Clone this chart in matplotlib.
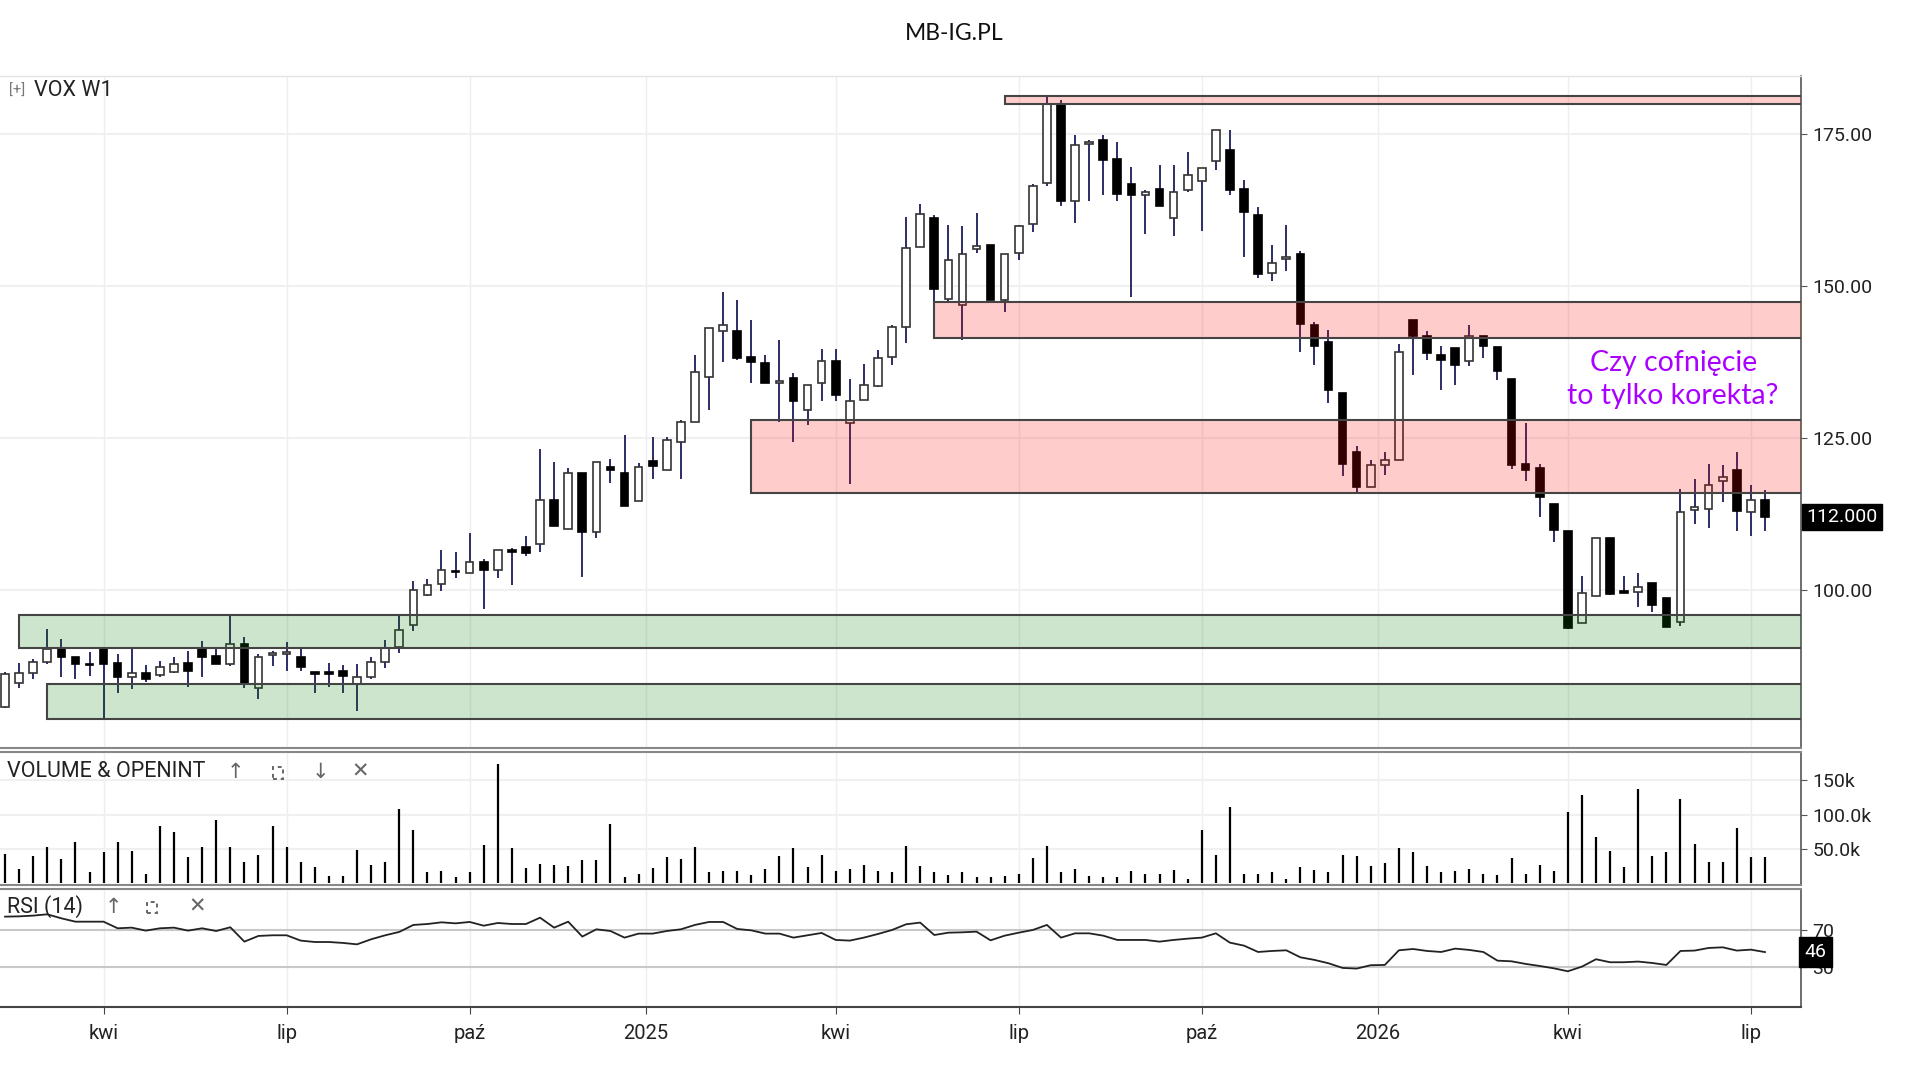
import matplotlib
matplotlib.use('Agg')
import matplotlib.pyplot as plt
import matplotlib.dates as mdates
import matplotlib.transforms as mtransforms
from matplotlib.patches import Rectangle
from matplotlib.ticker import FormatStrFormatter
import numpy as np
import pandas as pd

plt.rcParams['font.family'] = ['Roboto', 'DejaVu Sans']

# tygodniowe swiece VOX (W1), pierwsza swieca 12.02.2024
first_week = '2024-02-12'

opens = [80.8, 84.75, 86.4, 88.15, 90.35, 88.9, 87.7, 90.35, 88.05, 85.7,
         86.4, 86.0, 86.5, 87.9, 90.5, 89.1, 87.8, 91.1, 83.8, 89.25,
         89.4, 89.0, 86.5, 86.5, 86.6, 84.6, 85.7, 88.2, 90.6, 94.2,
         99.1, 100.93, 103.1, 102.8, 104.6, 103.24, 106.6, 107.13, 107.5, 114.77,
         110.0, 119.3, 109.6, 120.15, 119.3, 114.55, 121.25, 119.7, 124.3, 127.55,
         135.0, 142.5, 142.5, 138.26, 137.3, 134.0, 134.8, 129.6, 134.0, 137.7,
         127.4, 131.2, 133.5, 138.26, 143.2, 156.4, 161.1, 147.9, 146.9, 156.1,
         156.65, 147.6, 155.4, 160.1, 166.9, 179.85, 163.9, 173.3, 173.9, 170.8,
         166.7, 164.98, 165.85, 161.14, 165.7, 167.2, 170.6, 172.3, 165.85, 161.6,
         152.1, 154.35, 155.16, 143.6, 140.7, 132.3, 122.6, 117.0, 120.6, 121.35,
         144.46, 141.83, 138.7, 139.74, 137.6, 141.83, 139.9, 134.7, 120.7, 119.98,
         114.2, 109.7, 94.52, 99.0, 108.6, 99.84, 99.73, 101.1, 98.74, 94.79,
         113.12, 113.3, 117.95, 119.7, 112.74, 114.77]
highs = [86.5, 88.0, 88.6, 93.5, 91.9, 88.9, 89.8, 90.35, 89.4, 90.35,
         87.7, 88.3, 89.0, 90.0, 91.6, 90.2, 95.9, 92.3, 89.4, 90.0,
         91.4, 90.5, 86.5, 88.0, 87.7, 87.8, 88.9, 91.8, 95.9, 101.5,
         101.76, 106.5, 106.15, 109.4, 105.05, 106.6, 106.97, 108.9, 123.2, 121.1,
         120.0, 119.3, 121.1, 121.5, 125.5, 120.8, 125.1, 125.1, 127.9, 138.7,
         143.0, 148.96, 147.6, 144.4, 138.6, 141.1, 135.6, 133.75, 139.6, 139.6,
         134.7, 137.2, 139.5, 143.6, 161.3, 163.5, 161.7, 160.05, 159.8, 161.9,
         156.65, 155.2, 160.0, 166.8, 181.2, 180.5, 174.75, 173.9, 174.75, 173.65,
         169.5, 165.8, 169.8, 169.8, 172.0, 169.4, 175.7, 175.7, 167.45, 162.95,
         156.75, 160.04, 155.65, 144.0, 142.75, 132.3, 123.6, 121.35, 122.6, 140.45,
         144.46, 142.5, 140.1, 139.74, 143.6, 141.83, 139.9, 134.7, 127.45, 120.7,
         114.2, 109.7, 102.3, 108.6, 108.6, 102.3, 102.86, 101.1, 98.74, 116.58,
         118.2, 120.7, 120.6, 122.6, 117.24, 116.4]
lows = [80.6, 83.8, 85.3, 87.8, 85.6, 85.3, 85.85, 78.8, 83.1, 83.65,
        84.9, 85.6, 86.4, 84.1, 85.7, 87.8, 87.5, 83.9, 82.0, 87.5,
        86.7, 86.7, 83.1, 84.1, 83.0, 80.1, 85.3, 87.1, 89.7, 93.3,
        99.0, 99.8, 101.9, 102.8, 96.8, 101.9, 100.77, 105.6, 106.15, 110.5,
        110.0, 102.2, 108.5, 117.5, 113.8, 114.55, 118.2, 119.7, 118.2, 127.55,
        129.6, 137.4, 137.8, 134.0, 134.0, 127.6, 124.3, 127.1, 131.0, 131.0,
        117.4, 131.2, 133.3, 137.0, 140.6, 156.4, 146.2, 147.3, 141.1, 155.4,
        147.7, 145.7, 154.3, 158.8, 166.4, 163.06, 160.3, 163.9, 164.98, 163.9,
        148.2, 158.45, 163.1, 158.2, 165.4, 159.0, 169.0, 165.0, 154.7, 151.3,
        150.8, 152.5, 139.1, 137.0, 130.7, 118.7, 115.8, 117.0, 118.9, 121.35,
        135.4, 137.8, 132.9, 133.76, 136.8, 138.15, 134.5, 119.9, 117.95, 112.0,
        107.8, 93.5, 94.52, 99.0, 99.2, 99.5, 97.2, 96.3, 93.9, 94.08,
        110.9, 110.2, 114.4, 109.7, 108.9, 109.7]
closes = [86.1, 86.3, 88.1, 90.35, 88.98, 87.8, 87.6, 87.8, 85.6, 86.3,
          85.3, 87.3, 87.8, 86.7, 89.0, 87.8, 91.1, 84.75, 89.0, 89.7,
          89.85, 87.3, 86.1, 86.1, 85.85, 85.6, 88.2, 90.4, 93.4, 99.95,
          100.77, 103.24, 102.9, 104.6, 103.24, 106.6, 106.15, 106.04, 114.77, 110.5,
          119.3, 109.6, 121.1, 119.7, 113.8, 120.15, 120.3, 124.65, 127.55, 135.8,
          143.0, 143.6, 138.15, 137.44, 134.0, 134.4, 131.0, 133.75, 137.7, 132.1,
          131.0, 133.75, 138.1, 143.2, 156.2, 161.75, 149.5, 154.3, 155.2, 156.5,
          147.7, 155.2, 159.9, 166.4, 179.85, 163.9, 173.1, 173.65, 170.75, 165.15,
          164.98, 165.4, 163.1, 165.4, 168.2, 169.4, 175.7, 165.8, 162.1, 152.0,
          153.7, 154.7, 143.74, 140.1, 132.9, 120.7, 117.0, 120.5, 121.4, 139.1,
          141.72, 138.9, 137.8, 137.0, 141.83, 140.07, 135.95, 120.6, 119.7, 115.2,
          109.83, 93.7, 99.46, 108.6, 99.4, 99.57, 100.5, 97.53, 93.9, 112.74,
          113.56, 117.3, 118.5, 112.9, 114.77, 112.0]

# wolumen w tysiacach
volume_k = [43.1, 21.1, 40.2, 52.9, 35.3, 60.3, 16.2, 45.6, 60.3, 47.5,
            13.7, 83.8, 75.0, 38.2, 52.9, 91.7, 52.9, 30.9, 41.7, 83.8,
            52.9, 30.4, 23.5, 10.8, 10.8, 49.0, 27.0, 30.9, 107.8, 77.0,
            16.2, 18.1, 8.8, 16.2, 56.4, 174.0, 51.0, 22.1, 28.4, 27.0,
            25.5, 33.3, 33.3, 85.8, 8.8, 13.7, 22.1, 38.2, 35.8, 52.9,
            16.2, 18.1, 18.1, 11.3, 21.1, 40.2, 51.0, 23.5, 41.7, 18.1,
            20.6, 27.0, 18.1, 16.2, 54.9, 25.5, 16.2, 12.3, 16.2, 8.8,
            8.8, 10.8, 13.7, 36.3, 54.9, 16.2, 21.1, 10.8, 8.8, 8.8,
            18.1, 13.2, 13.7, 19.6, 6.4, 77.0, 41.7, 111.3, 13.7, 13.7,
            15.7, 6.4, 23.5, 19.6, 16.2, 41.7, 40.2, 25.5, 28.9, 51.0,
            45.6, 25.5, 16.2, 18.1, 21.1, 13.7, 12.3, 36.3, 13.7, 27.0,
            18.1, 104.4, 128.9, 67.6, 47.5, 23.5, 137.3, 40.2, 45.6, 122.5,
            57.8, 30.4, 30.4, 80.4, 38.2, 38.2]

rsi = [84.3, 84.6, 85.4, 86.8, 82.5, 78.9, 78.9, 78.9, 71.8, 72.5,
       69.3, 71.8, 72.5, 69.3, 71.8, 68.9, 72.9, 57.5, 63.6, 64.3,
       64.3, 58.6, 57.1, 57.1, 56.1, 54.6, 60.0, 64.3, 67.9, 75.4,
       76.4, 78.2, 77.1, 78.6, 74.6, 77.5, 76.4, 76.4, 83.2, 72.5,
       78.9, 62.9, 70.7, 68.9, 61.8, 66.1, 66.1, 68.9, 70.7, 75.4,
       78.6, 78.6, 71.1, 69.6, 66.1, 66.1, 61.8, 64.3, 66.8, 59.3,
       58.6, 61.8, 65.7, 70.0, 76.1, 77.9, 64.6, 67.1, 67.5, 68.2,
       58.9, 63.9, 67.1, 70.0, 75.4, 61.8, 66.4, 66.4, 63.9, 59.3,
       59.3, 59.3, 57.5, 59.3, 60.7, 61.8, 66.4, 56.4, 53.2, 46.4,
       47.5, 48.2, 40.7, 37.9, 34.3, 29.3, 28.6, 32.2, 32.5, 48.2,
       49.6, 47.5, 46.4, 50.0, 48.6, 46.4, 37.1, 36.4, 33.6, 31.4,
       28.9, 25.7, 30.7, 38.6, 35.4, 35.4, 36.1, 34.6, 32.5, 47.5,
       47.9, 50.7, 51.4, 47.9, 48.9, 46.3]

# strefy wsparcia/oporu: dol, gora, indeks swiecy od ktorej startuja, kolor
zone_low = [179.85, 141.4, 115.9, 90.4, 78.8]
zone_high = [181.15, 147.4, 127.9, 95.95, 84.5]
zone_start = [71, 66, 53, 1, 3]
zone_color = ['red', 'red', 'red', 'green', 'green']

price_ticks = [100, 125, 150, 175]
volume_ticks = [50, 100, 150]
volume_labels = ['50.0k', '100.0k', '150k']
rsi_levels = [70, 30]
month_names = {4: 'kwi', 7: 'lip', 10: 'paź'}

title = 'MB-IG.PL'
note = 'Czy cofnięcie\nto tylko korekta?'

dates = pd.date_range(first_week, periods=len(closes), freq='7D')
week_end = dates + pd.Timedelta(days=6)
x = mdates.date2num(dates)
o = np.array(opens)
h = np.array(highs)
l = np.array(lows)
c = np.array(closes)

# ticki osi czasu: miesiac na swiecy, w ktorej tygodniu wypada 1. dzien;
# rok na granicy miedzy swiecami
ticks = []
tick_labels = []
for d in pd.date_range('2024-04-01', '2026-07-01', freq='QS'):
    i = np.searchsorted(week_end, d)
    if d.month == 1:
        ticks.append((x[i - 1] + x[i]) / 2)
        tick_labels.append(str(d.year))
    else:
        ticks.append(x[i])
        tick_labels.append(month_names[d.month])

fig = plt.figure(figsize=(19.2, 10.8), dpi=100)
W = 1801 / 1920
ax_p = fig.add_axes([0, 0.3074, W, 0.6222])
ax_v = fig.add_axes([0, 0.1806, W, 0.1231])
ax_r = fig.add_axes([0, 0.0676, W, 0.1093])

xmin = x[0] - 2.5
xmax = x[0] + 127.56 * 7

for ax in (ax_p, ax_v, ax_r):
    ax.set_xlim(xmin, xmax)
    ax.set_xticks(ticks)
    ax.grid(axis='x', color='#eeeeee', lw=1)
    ax.set_axisbelow(True)
    ax.yaxis.tick_right()
    ax.spines['left'].set_visible(False)
    ax.spines['right'].set_color('#555555')
    ax.spines['right'].set_linewidth(1.2)
    ax.spines['top'].set_color('#888888')
    ax.spines['bottom'].set_color('#888888')
    ax.spines['top'].set_linewidth(1.5)
    ax.spines['bottom'].set_linewidth(1.5)
    ax.tick_params(axis='y', direction='out', length=4, color='#555555',
                   labelsize=14, labelcolor='#222222', pad=4)

ax_p.spines['top'].set_color('#e3e3e3')
ax_p.spines['top'].set_linewidth(1)
ax_p.tick_params(axis='x', length=0, labelbottom=False)
ax_v.tick_params(axis='x', length=0, labelbottom=False)

# ---- wykres cenowy ----
ax_p.set_ylim(74.0, 184.5)
ax_p.set_yticks(price_ticks)
ax_p.yaxis.set_major_formatter(FormatStrFormatter('%.2f'))
ax_p.grid(axis='y', color='#f0f0f0', lw=1.5)

ax_p.vlines(x, l, h, color='#1c1c5c', lw=1.3, zorder=1)
up = c >= o
body_low = np.minimum(o, c)
body_h = np.maximum(np.abs(c - o), 0.2)
ax_p.bar(x[up], body_h[up], bottom=body_low[up], width=3.8,
         facecolor='white', edgecolor='#333333', lw=1.2, zorder=2)
ax_p.bar(x[~up], body_h[~up], bottom=body_low[~up], width=3.8,
         facecolor='black', edgecolor='black', lw=1.2, zorder=2)

# strefy rysowane na wierzchu, polprzezroczyste
for lo, hi, st, col in zip(zone_low, zone_high, zone_start, zone_color):
    fc = (1, 0, 0, 0.2) if col == 'red' else (0, 0.5, 0, 0.2)
    ax_p.add_patch(Rectangle((x[st], lo), xmax - x[st] + 10, hi - lo,
                             facecolor=fc, edgecolor='#444444', lw=1.5, zorder=3))

ax_p.text(0.929, 0.548, note, transform=ax_p.transAxes, ha='center', va='center',
          fontsize=20.5, color='#aa00ff', family=['Lato', 'DejaVu Sans'],
          linespacing=1.35, zorder=5)

trans_p = mtransforms.blended_transform_factory(ax_p.transAxes, ax_p.transData)
ax_p.text(1.003, c[-1], '%.3f' % c[-1], transform=trans_p, ha='left', va='center',
          fontsize=14, color='white', zorder=6, clip_on=False,
          bbox=dict(boxstyle='square,pad=0.22', facecolor='black', edgecolor='black'))

ax_p.text(0.005, 0.978, '[+]', transform=ax_p.transAxes, fontsize=10.5,
          color='#777777', va='center')
ax_p.text(0.019, 0.978, 'VOX W1', transform=ax_p.transAxes, fontsize=15.5,
          color='#222222', va='center')

# ---- wolumen ----
ax_v.set_ylim(-2.5, 191.6)
ax_v.set_yticks(volume_ticks, labels=volume_labels)
ax_v.grid(axis='y', color='#f0f0f0', lw=1.5)
ax_v.vlines(x, 0, volume_k, color='black', lw=1.6, zorder=2)


def panel_header(ax, name, icons, xs):
    ax.text(0.004, 0.85, name, transform=ax.transAxes, fontsize=15.5,
            color='#222222', va='center')
    for ic, xi in zip(icons, xs):
        if ic == 'box':
            ax.add_patch(Rectangle((xi - 0.003, 0.795), 0.006, 0.095,
                                   transform=ax.transAxes, fill=False,
                                   edgecolor='#666666', lw=1.4, ls=(0, (2, 2)),
                                   clip_on=False))
        else:
            ax.text(xi, 0.85, ic, transform=ax.transAxes, fontsize=15,
                    color='#666666', va='center', ha='center',
                    family=['DejaVu Sans'])


panel_header(ax_v, 'VOLUME & OPENINT', ['↑', 'box', '↓', '✕'],
             [235 / 1801, 278 / 1801, 320 / 1801, 360 / 1801])

# ---- RSI ----
ax_r.set_ylim(-12.6, 114)
ax_r.set_yticks(rsi_levels)
for lev in rsi_levels:
    ax_r.axhline(lev, color='#c8c8c8', lw=1.5, zorder=1)
ax_r.plot(x, rsi, color='#222222', lw=1.3, zorder=2)
ax_r.spines['bottom'].set_color('#444444')

trans_r = mtransforms.blended_transform_factory(ax_r.transAxes, ax_r.transData)
ax_r.text(1.002, rsi[-1], '%.0f' % rsi[-1], transform=trans_r, ha='left', va='center',
          fontsize=14, color='white', zorder=6, clip_on=False,
          bbox=dict(boxstyle='square,pad=0.3', facecolor='black', edgecolor='black'))

panel_header(ax_r, 'RSI (14)', ['↑', 'box', '✕'],
             [113 / 1801, 152 / 1801, 197 / 1801])

ax_r.set_xticks(ticks, labels=tick_labels)
ax_r.tick_params(axis='x', direction='out', length=5, color='#444444',
                 labelsize=14.5, labelcolor='#222222', pad=7)

fig.text(0.497, 1 - 34 / 1080, title, ha='center', va='center', fontsize=16.5,
         color='#111111', family=['Lato', 'DejaVu Sans'])

fig.savefig('out.png', dpi=100, facecolor='white')
